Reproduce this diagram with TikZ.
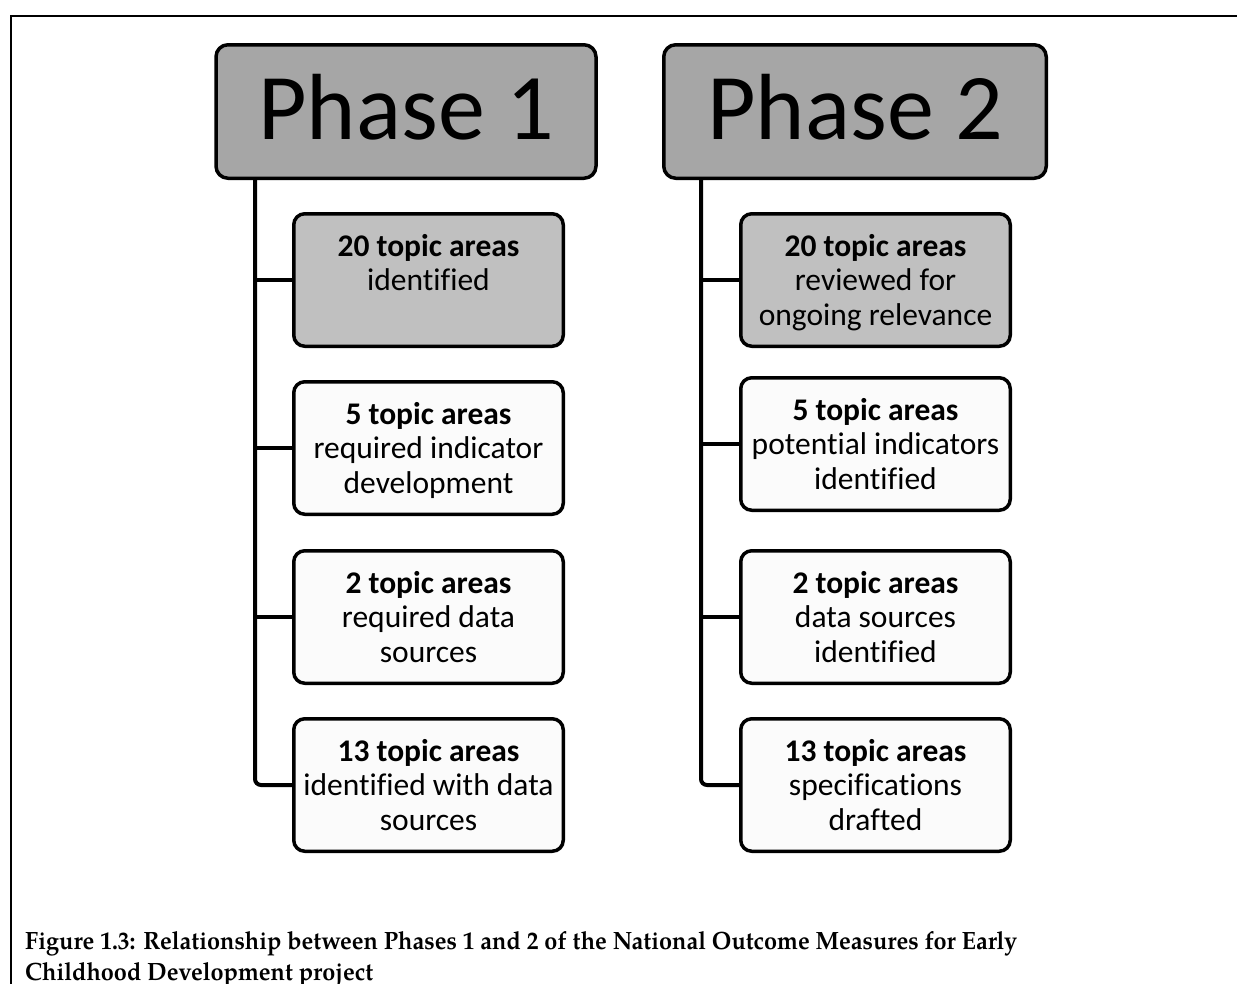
\documentclass[tikz,border=0pt]{standalone}
\usepackage{fontspec}
\newfontfamily\boxfont{Carlito}[Ligatures=NoCommon]
\newfontfamily\capfont{TeX Gyre Pagella}
\definecolor{phasegray}{HTML}{A6A6A6}
\definecolor{firstgray}{HTML}{C0C0C0}
\definecolor{plainfill}{HTML}{FBFBFB}
\begin{document}
\begin{tikzpicture}[x=1pt,y=-1pt,
  phasebox/.style={draw=black, line width=3.5pt, fill=phasegray, rounded corners=12pt,
    minimum width=380pt, minimum height=133.5pt, inner sep=0pt},
  subbox/.style={draw=black, line width=3.5pt, fill=plainfill, rounded corners=11pt,
    minimum width=269.5pt, minimum height=132.5pt, inner sep=0pt},
  firstbox/.style={subbox, fill=firstgray},
  phasetext/.style={font=\boxfont\fontsize{94}{100}\selectfont, anchor=base, inner sep=0pt},
  boxtext/.style={font=\boxfont\fontsize{31.5}{34.5}\selectfont, align=center, inner sep=0pt},
  link/.style={draw=black, line width=4pt},
  captext/.style={font=\capfont\bfseries\fontsize{25}{32}\selectfont, xscale=0.94,
    inner sep=0pt, anchor=base west},
  frameline/.style={draw=black, line width=2pt}
]
\useasboundingbox (0,0) rectangle (1237,983);

% outer frame of the figure
\draw[frameline] (11,984) -- (11,15.5) -- (1238,15.5);

% ---------- Phase 1 ----------
\node[phasebox] (p1) at (406,111.5) {};
\node[phasetext] (p1t) at ([yshift=-27.5pt]p1.center) {Phase 1};

\node[firstbox] (a1) at (428.5,280) {};
\node[subbox]   (a2) at (428.5,448) {};
\node[subbox]   (a3) at (428.5,617) {};
\node[subbox]   (a4) at (428.5,785) {};

\node[boxtext] (a1t) at ([yshift=-4pt]a1.center) {\strut\textbf{20 topic areas}\\identified\\\strut};
\node[boxtext] (a2t) at ([yshift=-4pt]a2.center) {\strut\textbf{5 topic areas}\\required indicator\\development\strut};
\node[boxtext] (a3t) at ([yshift=-4pt]a3.center) {\strut\textbf{2 topic areas}\\required data\\sources\strut};
\node[boxtext] (a4t) at ([yshift=-4pt]a4.center) {\strut\textbf{13 topic areas}\\identified with data\\sources\strut};

\coordinate (r1) at (255,180);
\draw[link, rounded corners=6pt] (r1) |- (a4.west);
\draw[link] (r1 |- a1.west) -- (a1.west);
\draw[link] (r1 |- a2.west) -- (a2.west);
\draw[link] (r1 |- a3.west) -- (a3.west);

% ---------- Phase 2 ----------
\node[phasebox, minimum width=382.5pt] (p2) at (855,111.5) {};
\node[phasetext] (p2t) at ([yshift=-27.5pt]p2.center) {Phase 2};

\node[firstbox] (b1) at (875.5,280) {};
\node[subbox]   (b2) at (875.5,444) {};
\node[subbox]   (b3) at (875.5,617) {};
\node[subbox]   (b4) at (875.5,785) {};

\node[boxtext] (b1t) at ([yshift=-4pt]b1.center) {\strut\textbf{20 topic areas}\\reviewed for\\ongoing relevance\strut};
\node[boxtext] (b2t) at ([yshift=-4pt]b2.center) {\strut\textbf{5 topic areas}\\potential indicators\\identified\strut};
\node[boxtext] (b3t) at ([yshift=-4pt]b3.center) {\strut\textbf{2 topic areas}\\data sources\\identified\strut};
\node[boxtext] (b4t) at ([yshift=-4pt]b4.center) {\strut\textbf{13 topic areas}\\specifications\\drafted\strut};

\coordinate (r2) at (701,180);
\draw[link, rounded corners=6pt] (r2) |- (b4.west);
\draw[link] (r2 |- b1.west) -- (b1.west);
\draw[link] (r2 |- b2.west) -- (b2.west);
\draw[link] (r2 |- b3.west) -- (b3.west);

% ---------- caption ----------
\node[captext] (cap1) at (25,949) {Figure 1.3: Relationship between Phases 1 and 2 of the National Outcome Measures for Early};
\node[captext] (cap2) at (25,980) {Childhood Development project};
\end{tikzpicture}
\end{document}
